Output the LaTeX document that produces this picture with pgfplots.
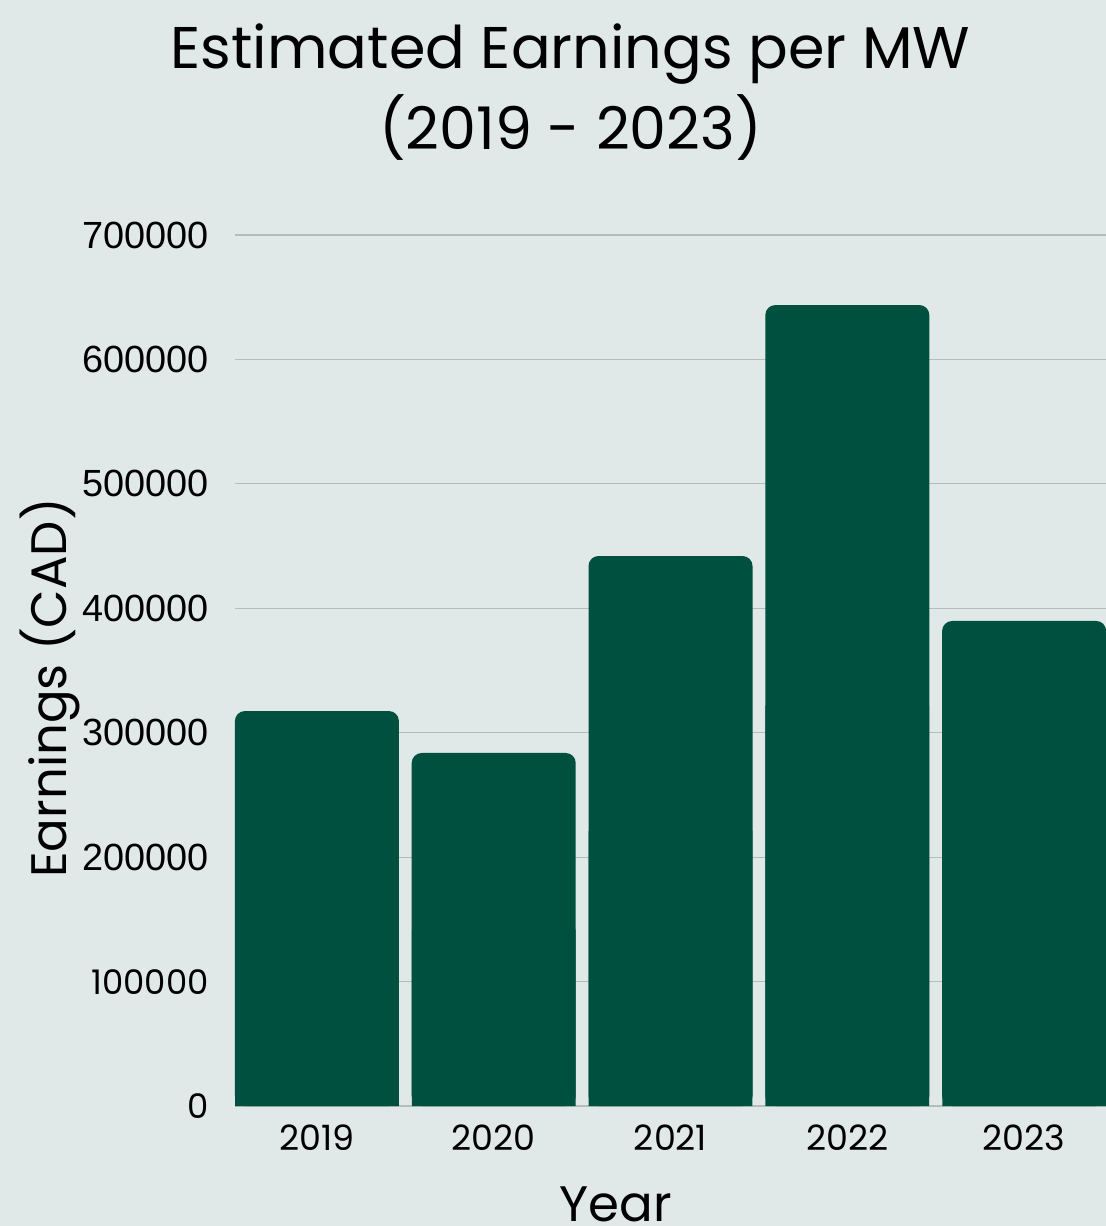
\documentclass[border=0pt]{standalone}
\usepackage{pgfplots}
\usepackage{pgfplotstable}
\pgfplotsset{compat=1.18}
\usepackage{fontspec}
\setmainfont{Poppins}
\newfontfamily\lib{Liberation Sans}
\definecolor{bgc}{HTML}{E0E9E7}
\definecolor{barc}{HTML}{00503F}
\definecolor{gridc}{HTML}{B3BDBA}
\pgfplotstableread{
x v
0 317400
1 283700
2 442000
3 643700
4 389800
}\data
\begin{document}
\begin{tikzpicture}[x=1bp,y=1bp]
\fill[bgc] (-235,-120) rectangle (871,1106);
\begin{axis}[
  at={(0,0)}, anchor=south west,
  scale only axis, width=871bp, height=871bp,
  xmin=-0.4633, xmax=4.463,
  ymin=0, ymax=700000,
  axis lines*=left,
  y axis line style={draw=none},
  x axis line style={draw=gridc, line width=1.2bp},
  major tick length=0pt,
  scaled y ticks=false,
  xtick={0,1,2,3,4},
  xticklabels={2019,2020,2021,2022,2023},
  ytick={0,100000,200000,300000,400000,500000,600000,700000},
  yticklabels={0,100000,{\lib\fontsize{38}{38}\selectfont 200000},{\lib\fontsize{38}{38}\selectfont 300000},{\lib\fontsize{38}{38}\selectfont 400000},{\lib\fontsize{38}{38}\selectfont 500000},{\lib\fontsize{38}{38}\selectfont 600000},{\lib\fontsize{38}{38}\selectfont 700000}},
  ymajorgrids,
  grid style={draw=gridc, line width=1.2bp},
  tick label style={inner sep=0pt, text=black},
  yticklabel style={font=\fontsize{34}{34}\selectfont, anchor=east, xshift=-26bp},
  xticklabel style={font=\fontsize{35}{35}\selectfont, anchor=north, yshift=-19bp},
  xlabel={Year},
  xlabel style={font=\fontsize{50}{50}\selectfont, at={(axis description cs:0.4374,0)}, anchor=north, inner sep=0pt, yshift=-81bp},
  ylabel={Earnings (CAD)},
  ylabel style={font=\fontsize{50}{50}\selectfont, at={(axis description cs:-0.1929,0.48)}, anchor=base, inner sep=0pt, rotate=0},
  title={Estimated Earnings per MW\\(2019 - 2023)},
  title style={font=\fontsize{59}{81}\selectfont, align=center, at={(axis description cs:0.3852,1)}, anchor=north, inner sep=0pt, yshift=205bp},
]
\addplot[ybar, bar width=164bp, bar shift=0pt, fill=barc, draw=none, rounded corners=10bp] table[x=x, y=v] {\data};
\addplot[ybar, bar width=163.7bp, bar shift=0pt, fill=barc, draw=none] table[x=x, y expr=\thisrow{v}/2] {\data};
\end{axis}
\pgfresetboundingbox
\useasboundingbox (-235,-120) rectangle (871,1106);
\end{tikzpicture}
\end{document}
